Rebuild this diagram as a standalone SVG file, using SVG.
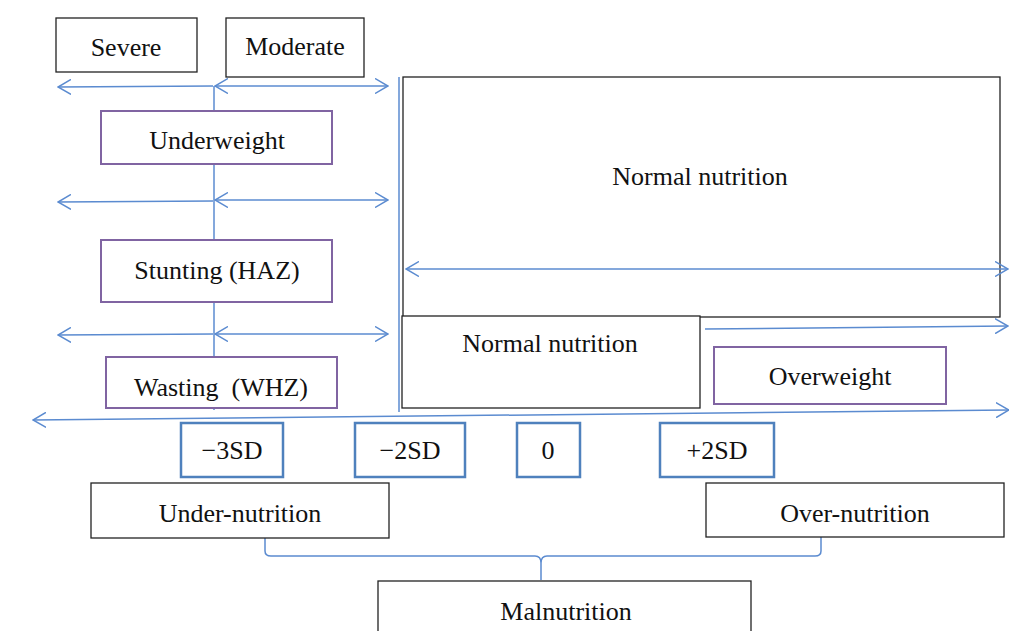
<svg xmlns="http://www.w3.org/2000/svg" width="1009" height="631" viewBox="0 0 1009 631">
<style>
text{font-family:'Liberation Serif','DejaVu Serif',serif;font-size:26px;fill:#111;text-anchor:middle}
.bk{fill:#fff;stroke:#222;stroke-width:1.3}
.pu{fill:#fff;stroke:#8064a2;stroke-width:2}
.sd{fill:#fff;stroke:#4f81bd;stroke-width:2.5}
.ln{stroke:#5b8bd0;stroke-width:1.5;fill:none}
</style>
<defs>
<marker id="ah" viewBox="0 0 14 16" refX="13" refY="8" markerWidth="14" markerHeight="16" markerUnits="userSpaceOnUse" orient="auto-start-reverse">
<path d="M0,0.5 L13,8 L0,15.5" fill="none" stroke="#5b8bd0" stroke-width="1.5"/>
</marker>
</defs>
<g id="connectors">
<line class="ln" x1="214" y1="86" x2="214" y2="410"/>
<line class="ln" x1="399" y1="77" x2="399" y2="412"/>
<line class="ln" x1="213" y1="86" x2="58" y2="87" marker-end="url(#ah)"/>
<line class="ln" x1="215" y1="86" x2="388" y2="86" marker-start="url(#ah)" marker-end="url(#ah)"/>
<line class="ln" x1="213" y1="201" x2="58" y2="202" marker-end="url(#ah)"/>
<line class="ln" x1="215" y1="200" x2="388" y2="200" marker-start="url(#ah)" marker-end="url(#ah)"/>
<line class="ln" x1="213" y1="334" x2="58" y2="335" marker-end="url(#ah)"/>
<line class="ln" x1="215" y1="334" x2="388" y2="334" marker-start="url(#ah)" marker-end="url(#ah)"/>
<line class="ln" x1="33" y1="420" x2="1009" y2="410" marker-start="url(#ah)" marker-end="url(#ah)"/>
<path class="ln" d="M265,530 L265,551 Q265,556 271,556 L535,556 Q541,556 541,563 L541,580 M821,530 L821,551 Q821,556 815,556 L547,556 Q541,556 541,563"/>
<line class="ln" x1="705" y1="329" x2="1008" y2="326" marker-end="url(#ah)"/>
</g>
<g id="severe"><rect class="bk" x="56" y="18" width="141" height="54"/><text x="126" y="56">Severe</text></g>
<g id="moderate"><rect class="bk" x="226" y="18" width="138" height="59"/><text x="295" y="55">Moderate</text></g>
<g id="underweight"><rect class="pu" x="101" y="111" width="231" height="53"/><text x="217" y="149">Underweight</text></g>
<g id="stunting"><rect class="pu" x="101" y="240" width="231" height="62"/><text x="217" y="279">Stunting (HAZ)</text></g>
<g id="wasting"><rect class="pu" x="106" y="357" width="231" height="51"/><text x="221" y="396" xml:space="preserve">Wasting  (WHZ)</text></g>
<g id="normal-big"><rect class="bk" x="403" y="77" width="597" height="240"/><text x="700" y="185">Normal nutrition</text>
<line class="ln" x1="406" y1="269" x2="1008" y2="269" marker-start="url(#ah)" marker-end="url(#ah)"/></g>
<g id="normal-small"><rect class="bk" x="402" y="316" width="298" height="92"/><text x="550" y="352">Normal nutrition</text></g>
<g id="overweight"><rect class="pu" x="714" y="347" width="232" height="57"/><text x="830" y="385">Overweight</text></g>
<g id="sd-3"><rect class="sd" x="181" y="423" width="102" height="54"/><text x="232" y="459">−3SD</text></g>
<g id="sd-2"><rect class="sd" x="355" y="423" width="110" height="54"/><text x="410" y="459">−2SD</text></g>
<g id="sd0"><rect class="sd" x="517" y="423" width="63" height="54"/><text x="548" y="459">0</text></g>
<g id="sd+2"><rect class="sd" x="660" y="423" width="114" height="54"/><text x="717" y="459">+2SD</text></g>
<g id="under-nutrition"><rect class="bk" x="91" y="483" width="298" height="55"/><text x="240" y="522">Under-nutrition</text></g>
<g id="over-nutrition"><rect class="bk" x="706" y="483" width="298" height="54"/><text x="855" y="522">Over-nutrition</text></g>
<g id="malnutrition"><rect class="bk" x="378" y="581" width="373" height="60"/><text x="566" y="620">Malnutrition</text></g>
</svg>
